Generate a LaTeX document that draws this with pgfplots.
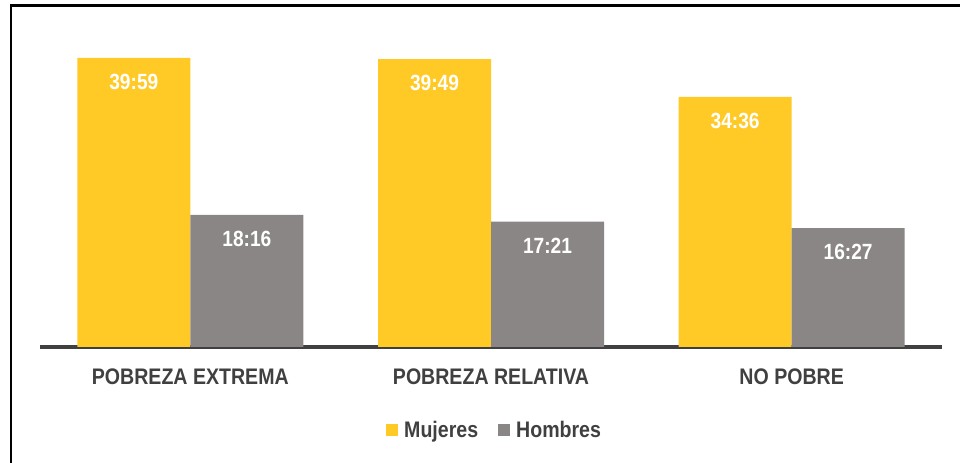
\documentclass[border=0pt]{standalone}
\usepackage{fontspec}
\setmainfont[FakeStretch=0.87]{Liberation Sans}
\usepackage{pgfplots}
\usepackage{pgfplotstable}
\pgfplotsset{compat=1.18}
\definecolor{amar}{HTML}{FFC926}
\definecolor{gris}{HTML}{8A8685}
\definecolor{txt}{HTML}{404040}
\newcommand\lbl{\fontsize{22.5bp}{24bp}\selectfont\bfseries}
\newcommand\vlbl{\fontsize{22bp}{23bp}\selectfont\bfseries}
\pgfplotstableread{
x m mlab h hlab
0 39.983 39:59 18.267 18:16
1 39.817 39:49 17.35 17:21
2 34.6 34:36 16.45 16:27
}\data
\begin{document}
\begin{tikzpicture}
\useasboundingbox (0,0) rectangle (960bp,463bp);
\draw[line width=2.6bp] (11bp,0) -- (11bp,457.2bp) -- (960bp,457.2bp);
\begin{axis}[
  at={(40bp,116bp)}, anchor=south west,
  scale only axis, width=902bp, height=325.4bp,
  xmin=-0.5, xmax=2.5, ymin=0, ymax=45,
  ybar=0pt, bar width=113bp,
  axis x line=bottom, axis y line=none,
  x axis line style={-, line width=3.5bp, draw=txt},
  xtick={0,1,2},
  xticklabels={POBREZA EXTREMA, POBREZA RELATIVA, NO POBRE},
  major tick length=0pt,
  ytick=\empty,
  xticklabel style={font=\lbl, text=txt, anchor=north, inner sep=0pt, yshift=-22bp},
  nodes near coords,
  point meta=explicit symbolic,
  every node near coord/.append style={font=\vlbl, text=white, anchor=north, inner sep=0pt, yshift=-16bp},
  legend columns=2,
  legend style={draw=none, fill=none, at={(0.504,-0.255)}, anchor=center, font=\lbl, text=txt,
    /tikz/every odd column/.append style={column sep=4bp},
    /tikz/every even column/.append style={column sep=18bp}},
]
\addplot[fill=amar, draw=none, legend image code/.code={\fill[amar] (0bp,-6bp) rectangle (12bp,6bp);}] table[x=x, y=m, meta=mlab] {\data};
\addplot[fill=gris, draw=none, legend image code/.code={\fill[gris] (0bp,-6bp) rectangle (12bp,6bp);}] table[x=x, y=h, meta=hlab] {\data};
\legend{Mujeres, Hombres}
\end{axis}
\end{tikzpicture}
\end{document}
